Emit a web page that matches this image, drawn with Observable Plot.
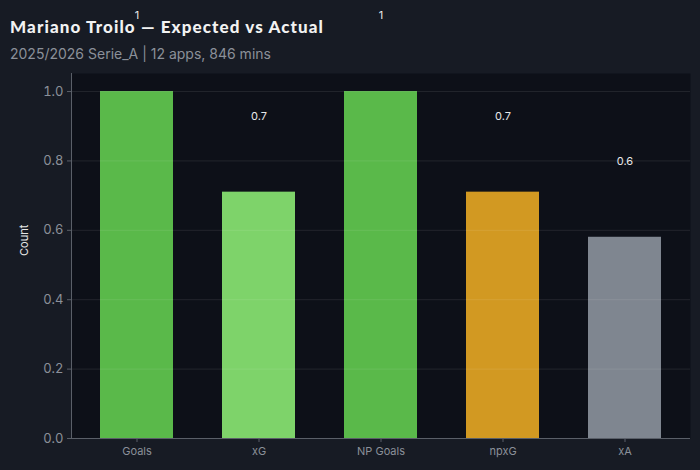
<!DOCTYPE html>
<html>
<head>
<meta charset="utf-8">
<script src="https://cdn.jsdelivr.net/npm/d3@7"></script>
<script src="https://cdn.jsdelivr.net/npm/@observablehq/plot@0.6"></script>
<style>
  html, body { margin: 0; padding: 0; background: #171b24; }
  #wrap { position: relative; width: 700px; height: 470px; overflow: hidden; }
  #title { position: absolute; left: 10px; top: 16px; font-family: Lato, sans-serif; font-weight: 900; font-size: 17px; letter-spacing: 1.1px; color: #f2f2f2; margin: 0; white-space: nowrap; }
  #subtitle { position: absolute; left: 10px; top: 45px; font-family: Inter, sans-serif; font-size: 14px; color: #8b9099; margin: 0; white-space: nowrap; }
  #chart { position: absolute; left: 0; top: 0; }
</style>
</head>
<body>
<div id="wrap">
  <div id="chart"></div>
  <div id="title">Mariano Troilo — Expected vs Actual</div>
  <div id="subtitle">2025/2026 Serie_A | 12 apps, 846 mins</div>
</div>
<script>
const categories = ["Goals", "xG", "NP Goals", "npxG", "xA"];
const values = [1, 0.71, 1, 0.71, 0.58];
const barColors = ["#5ab94a", "#7ed36a", "#5ab94a", "#d29922", "#7f8690"];
const yTicks = [0, 0.2, 0.4, 0.6, 0.8, 1.0];
const yLabel = "Count";

const data = categories.map((c, i) => ({
  cat: c,
  value: values[i],
  color: barColors[i],
  label: String(Math.round(values[i] * 10) / 10)
}));

const axisColor = "#5a5f68";
const tickText = "#8b9099";

const chart = Plot.plot({
  width: 700,
  height: 470,
  marginTop: 73,
  marginBottom: 32,
  marginLeft: 71,
  marginRight: 10,
  style: { background: "transparent", color: tickText, fontFamily: "Inter, sans-serif", overflow: "visible" },
  x: { domain: categories, paddingInner: 0.4, paddingOuter: 0.2, insetLeft: 4, insetRight: 4, label: null },
  y: { domain: [0, 1.052], label: null },
  marks: [
    Plot.frame({ fill: "#0d1018", stroke: null }),
    Plot.barY(data, { x: "cat", y: "value", fill: "color" }),
    Plot.gridY(yTicks, { stroke: "#ffffff", strokeOpacity: 0.09 }),
    Plot.ruleY([0], { stroke: axisColor }),
    Plot.frame({ anchor: "left", stroke: axisColor }),
    Plot.axisY(yTicks, { tickFormat: d3.format(".1f"), tickSize: 4, tickPadding: 4, fontSize: 13, stroke: axisColor, fill: tickText, label: null }),
    Plot.axisX({ tickSize: 4, tickPadding: 5, fontSize: 11, stroke: axisColor, fill: tickText, label: null }),
    Plot.text([yLabel], { frameAnchor: "left", dx: -47, rotate: -90, fill: "#e6e6e6", fontSize: 11 }),
    Plot.text(data, { x: "cat", y: "value", text: "label", dy: -76, fill: "#e8e8e8", fontSize: 11 })
  ]
});
document.getElementById("chart").appendChild(chart);
</script>
</body>
</html>
